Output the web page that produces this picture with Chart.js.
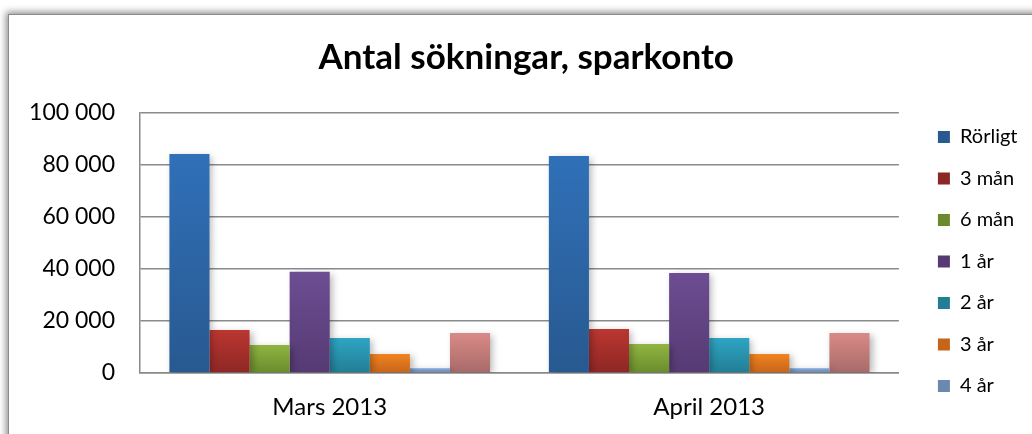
<!DOCTYPE html>
<html>
<head>
<meta charset="utf-8">
<script src="https://cdn.jsdelivr.net/npm/chart.js@4.4.0/dist/chart.umd.min.js"></script>
<style>
    html, body { margin: 0; padding: 0; background: #fff; overflow: hidden; }
    body { width: 1032px; height: 434px; position: relative; }
    #frame {
        position: absolute; left: 8px; top: 14px; width: 1100px; height: 500px;
        border: 1px solid #8a8a8a;
        box-shadow: -2px -2px 7px rgba(0, 0, 0, 0.45);
        background: #fff;
    }
    #wrap { position: absolute; left: 0; top: 0; width: 1050px; height: 434px; }
</style>
</head>
<body>
<div id="frame"></div>
<div id="wrap"><canvas id="sokChart"></canvas></div>
<script>
// Antal sökningar per bindningstid
const months = ['Mars 2013', 'April 2013'];
const terms = ['Rörligt', '3 mån', '6 mån', '1 år', '2 år', '3 år', '4 år', '5 år'];
const mars = [84200, 16500, 10800, 38900, 13500, 7300, 1800, 15400];
const april = [83500, 16900, 11200, 38500, 13500, 7300, 1800, 15400];
const yTicks = [0, 20000, 40000, 60000, 80000, 100000];

// färger: [topp, botten] för gradienten
const barColors = [
    ['#3070b8', '#285990'],
    ['#bb3631', '#8d2724'],
    ['#90b541', '#6a8b2d'],
    ['#6d4d93', '#553a73'],
    ['#2ea5c3', '#237d95'],
    ['#f2831f', '#c6641a'],
    ['#82a6d8', '#6a88b0'],
    ['#d98a87', '#a76a69']
];

const FONT = 'Lato, "Open Sans", sans-serif';
Chart.defaults.color = '#000';
Chart.defaults.font.family = FONT;

function fmt(v) {
    return String(v).replace(/\B(?=(\d{3})+(?!\d))/g, ' ');
}

function barFill(i) {
    return function(context) {
        const chart = context.chart;
        const area = chart.chartArea;
        if (!area || context.raw === undefined) return barColors[i][0];
        const y = chart.scales.y.getPixelForValue(context.raw);
        const g = chart.ctx.createLinearGradient(0, y, 0, area.bottom);
        g.addColorStop(0, barColors[i][0]);
        g.addColorStop(1, barColors[i][1]);
        return g;
    };
}

// mjuk skugga bakom staplarna
const barShadow = {
    id: 'barShadow',
    beforeDatasetsDraw(chart) {
        const ctx = chart.ctx;
        ctx.save();
        ctx.shadowColor = 'rgba(0,0,0,0.28)';
        ctx.shadowBlur = 7;
        ctx.shadowOffsetX = 3;
        ctx.shadowOffsetY = 2;
    },
    afterDatasetsDraw(chart) {
        chart.ctx.restore();
    }
};

const datasets = terms.map(function(name, i) {
    return {
        label: name,
        data: [mars[i], april[i]],
        backgroundColor: barFill(i),
        borderWidth: 0,
        barPercentage: 1,
        categoryPercentage: 0.845
    };
});

new Chart(document.getElementById('sokChart'), {
    type: 'bar',
    data: { labels: months, datasets: datasets },
    plugins: [barShadow],
    options: {
        responsive: true,
        maintainAspectRatio: false,
        animation: false,
        layout: { padding: { left: 25, right: 22.5, top: 0, bottom: 0 } },
        plugins: {
            title: {
                display: true,
                text: 'Antal sökningar, sparkonto',
                color: '#000',
                font: { size: 35, weight: 'bold', family: FONT },
                padding: { top: 37, bottom: 34 }
            },
            legend: {
                position: 'right',
                align: 'center',
                // tom titel för att flytta ner posterna
                title: { display: true, text: '', font: { size: 12 }, padding: { top: 74.6, bottom: 0 } },
                labels: {
                    boxWidth: 12,
                    boxHeight: 12,
                    padding: 21.5,
                    color: '#000',
                    font: { size: 20, family: FONT },
                    filter: function(item) { return item.datasetIndex < 7; },
                    generateLabels: function(chart) {
                        return chart.data.datasets.map(function(ds, i) {
                            return {
                                text: ds.label,
                                fillStyle: barColors[i][1],
                                strokeStyle: barColors[i][1],
                                lineWidth: 0,
                                hidden: false,
                                datasetIndex: i
                            };
                        });
                    }
                }
            },
            tooltip: { enabled: false }
        },
        scales: {
            x: {
                grid: { display: false, drawTicks: false },
                border: { display: true, color: '#8a8a8a', width: 1.5 },
                afterFit: function(scale) { scale.height = 61; },
                ticks: { padding: 20, font: { size: 24, family: FONT }, color: '#000' }
            },
            y: {
                min: 0,
                max: 100000,
                afterBuildTicks: function(scale) {
                    scale.ticks = yTicks.map(function(v) { return { value: v }; });
                },
                afterFit: function(scale) { scale.width = 115; },
                grid: { color: '#8a8a8a', lineWidth: 1.5, drawTicks: false },
                border: { display: true, color: '#8a8a8a', width: 1.5 },
                ticks: {
                    padding: 25,
                    font: { size: 23, family: FONT },
                    color: '#000',
                    callback: function(v) { return fmt(v); }
                }
            },
            gap: {
                position: 'right',
                min: 0,
                max: 1,
                grid: { display: false },
                border: { display: false },
                ticks: { display: false },
                afterFit: function(scale) { scale.width = 17.5; }
            }
        }
    }
});
</script>
</body>
</html>
